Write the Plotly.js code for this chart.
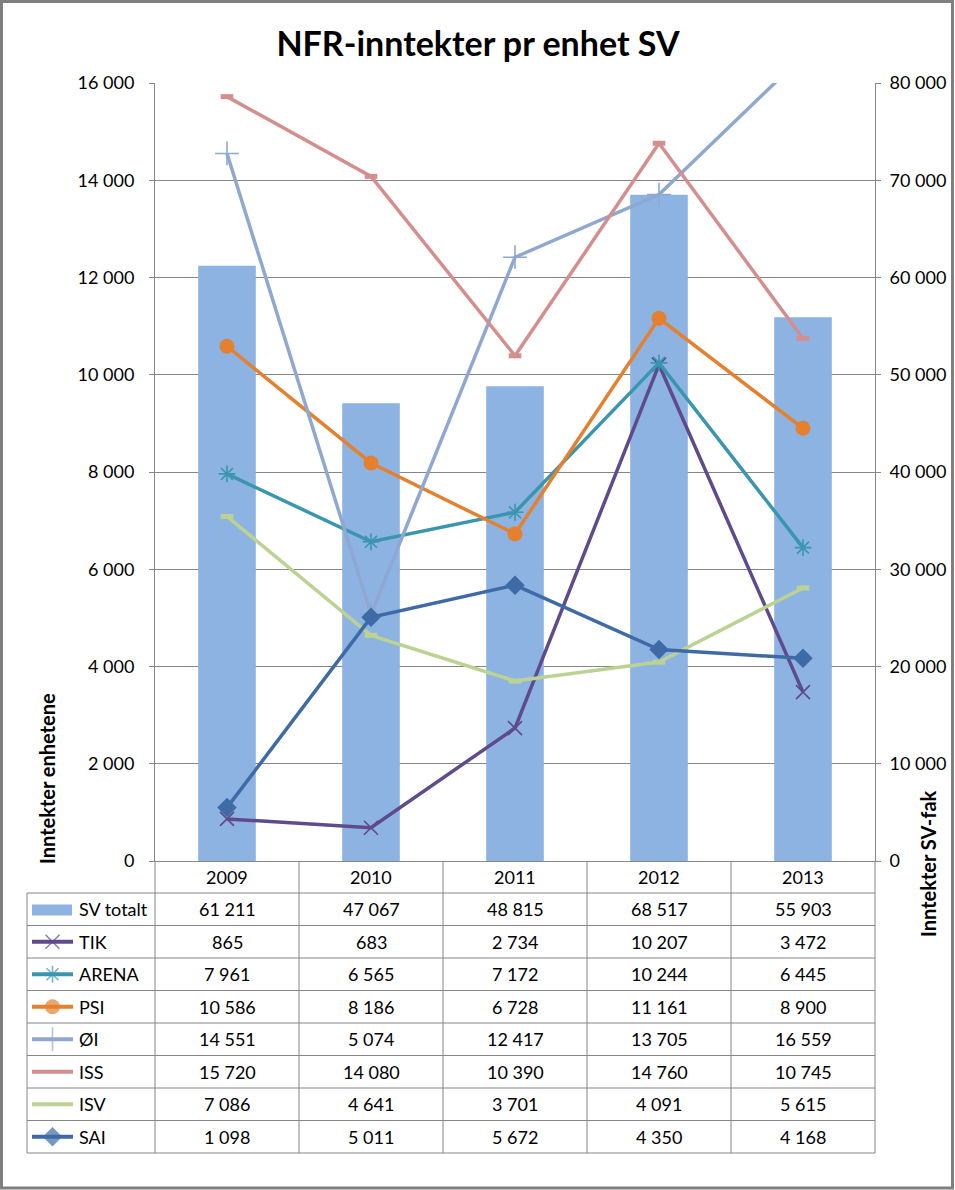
<!DOCTYPE html>
<html>
<head>
<meta charset="utf-8">
<script src="https://cdn.plot.ly/plotly-3.0.1.min.js"></script>
<style>html,body{margin:0;padding:0;background:#fff;}#chart{width:955px;height:1190px;}</style>
</head>
<body>
<div id="chart"></div>
<script>
// ---- data ----
var years = ['2009', '2010', '2011', '2012', '2013'];
var svTotalt = [61211, 47067, 48815, 68517, 55903];
var tik = [865, 683, 2734, 10207, 3472];
var arena = [7961, 6565, 7172, 10244, 6445];
var psi = [10586, 8186, 6728, 11161, 8900];
var oi = [14551, 5074, 12417, 13705, 16559];
var iss = [15720, 14080, 10390, 14760, 10745];
var isv = [7086, 4641, 3701, 4091, 5615];
var sai = [1098, 5011, 5672, 4350, 4168];
var seriesNames = ['SV totalt', 'TIK', 'ARENA', 'PSI', 'ØI', 'ISS', 'ISV', 'SAI'];

// ---- geometry / style ----
var W = 955, H = 1190;
var PL = 155, PR = 875, PT = 83, PB = 861;
var FONT = 'Lato, "Noto Sans", sans-serif';
var GRAY = '#868686';
function px(x) { return x / W; }
function py(y) { return 1 - y / H; }
function fmt(n) { return String(n).replace(/\B(?=(\d{3})+(?!\d))/g, ' '); }

var lineSeries = [
  {name: 'TIK', y: tik, color: '#5F4A8B', symbol: 'x-thin-open', size: 14, lw: 1.6},
  {name: 'ARENA', y: arena, color: '#3996AE', symbol: 'asterisk-open', size: 14, lw: 1.6},
  {name: 'PSI', y: psi, color: '#E5802E', symbol: 'circle', size: 15, lw: 0},
  {name: 'ØI', y: oi, color: '#8EA8D2', symbol: 'cross-thin-open', size: 17, lw: 1.6},
  {name: 'ISS', y: iss, color: '#D58E8E', symbol: 'line-ew-open', size: 9, lw: 5},
  {name: 'ISV', y: isv, color: '#BCD293', symbol: 'line-ew-open', size: 9, lw: 5},
  {name: 'SAI', y: sai, color: '#3E6BA6', symbol: 'diamond', size: 15, lw: 0}
];

var traces = [];
traces.push({
  type: 'bar', x: years, y: svTotalt, xaxis: 'x', yaxis: 'y',
  marker: {color: '#8DB3E2'}, width: 0.4, name: 'SV totalt', showlegend: false, hoverinfo: 'x+y'
});
lineSeries.forEach(function (s) {
  traces.push({
    type: 'scatter', mode: 'lines+markers', x: years, y: s.y, xaxis: 'x', yaxis: 'y2',
    name: s.name, showlegend: false,
    line: {color: s.color, width: 3.5},
    marker: {symbol: s.symbol, size: s.size, color: s.color, line: {color: s.color, width: s.lw}}
  });
});

// table rows geometry
var rowTops = [893, 925.5, 958, 990.5, 1023, 1055.5, 1088, 1120.5, 1153];
var colBounds = [155, 299, 443, 587, 731, 875];
var colCenters = [227, 371, 515, 659, 803];
var tableLeft = 27, tableTop = 861;

// legend keys (in a helper subplot measured in pixels)
lineSeries.forEach(function (s, i) {
  var r = i + 1;
  var yc = (rowTops[r] + rowTops[r + 1]) / 2;
  traces.push({
    type: 'scatter', mode: 'lines+markers', x: [32, 52.5, 73], y: [yc, yc, yc],
    xaxis: 'x3', yaxis: 'y3', showlegend: false, hoverinfo: 'skip',
    line: {color: s.color, width: 4},
    marker: {symbol: s.symbol, size: [0, (s.symbol.indexOf('line') === 0 ? 0 : s.size), 0], color: s.color,
             line: {color: s.color, width: s.lw}}
  });
});

var shapes = [];
var annotations = [];
// outer border
shapes.push({type: 'rect', xref: 'paper', yref: 'paper', x0: px(1.5), x1: px(952.5), y0: py(1.5), y1: py(1188), line: {color: '#7F7F7F', width: 3}});
// horizontal table lines
rowTops.forEach(function (y) {
  shapes.push({type: 'line', xref: 'paper', yref: 'paper', x0: px(tableLeft), x1: px(PR), y0: py(y), y1: py(y), line: {color: GRAY, width: 1}});
});
// vertical table lines
colBounds.forEach(function (x) {
  shapes.push({type: 'line', xref: 'paper', yref: 'paper', x0: px(x), x1: px(x), y0: py(tableTop), y1: py(1153), line: {color: GRAY, width: 1}});
});
shapes.push({type: 'line', xref: 'paper', yref: 'paper', x0: px(tableLeft), x1: px(tableLeft), y0: py(893), y1: py(1153), line: {color: GRAY, width: 1}});
// bar legend key
shapes.push({type: 'rect', xref: 'paper', yref: 'paper', x0: px(32), x1: px(72), y0: py(904.5), y1: py(915.5), fillcolor: '#8DB3E2', line: {width: 0}});

// header years
years.forEach(function (yr, j) {
  annotations.push({xref: 'paper', yref: 'paper', x: px(colCenters[j]), y: py(877), text: yr, showarrow: false,
    xanchor: 'center', yanchor: 'middle', font: {family: FONT, size: 18, color: '#000'}});
});
var tableData = [svTotalt, tik, arena, psi, oi, iss, isv, sai];
tableData.forEach(function (vals, r) {
  var yc = (rowTops[r] + rowTops[r + 1]) / 2;
  annotations.push({xref: 'paper', yref: 'paper', x: px(77), y: py(yc), text: seriesNames[r], showarrow: false,
    xanchor: 'left', yanchor: 'middle', font: {family: FONT, size: 18, color: '#000'}});
  vals.forEach(function (v, j) {
    annotations.push({xref: 'paper', yref: 'paper', x: px(colCenters[j]), y: py(yc), text: fmt(v), showarrow: false,
      xanchor: 'center', yanchor: 'middle', font: {family: FONT, size: 18, color: '#000'}});
  });
});
// axis titles
annotations.push({xref: 'paper', yref: 'paper', x: px(47), y: py(779), text: '<b>Inntekter enhetene</b>', textangle: -90,
  showarrow: false, xanchor: 'center', yanchor: 'middle', font: {family: FONT, size: 20, color: '#000'}});
annotations.push({xref: 'paper', yref: 'paper', x: px(928), y: py(864), text: '<b>Inntekter SV-fak</b>', textangle: -90,
  showarrow: false, xanchor: 'center', yanchor: 'middle', font: {family: FONT, size: 20, color: '#000'}});

var layout = {
  width: W, height: H,
  margin: {l: 0, r: 0, t: 0, b: 0},
  paper_bgcolor: '#fff', plot_bgcolor: 'rgba(0,0,0,0)',
  separators: ', ',
  showlegend: false,
  font: {family: FONT, size: 18, color: '#000'},
  title: {text: '<b>NFR-inntekter pr enhet SV</b>', x: 478 / W, xanchor: 'center', y: py(44), yanchor: 'middle',
          xref: 'paper', yref: 'container', font: {family: FONT, size: 34, color: '#000'}},
  xaxis: {domain: [px(PL), px(PR)], type: 'category', range: [-0.5, 4.5], showticklabels: false, ticks: '',
          showgrid: false, zeroline: false, showline: true, linecolor: GRAY, linewidth: 1, fixedrange: true},
  yaxis: {domain: [py(PB), py(PT)], range: [0, 80000], side: 'right', dtick: 10000, tick0: 0, tickformat: ',d',
          showgrid: true, gridcolor: GRAY, gridwidth: 1, zeroline: false, showline: true, linecolor: GRAY,
          ticks: 'outside', ticklen: 5, tickcolor: GRAY, ticklabelstandoff: 5,
          tickfont: {family: FONT, size: 18, color: '#000'}, fixedrange: true},
  yaxis2: {overlaying: 'y', side: 'left', range: [0, 16000], dtick: 2000, tick0: 0, tickformat: ',d',
          showgrid: false, zeroline: false, showline: true, linecolor: GRAY,
          ticks: 'outside', ticklen: 5, tickcolor: GRAY, ticklabelstandoff: 11,
          tickfont: {family: FONT, size: 18, color: '#000'}, fixedrange: true},
  xaxis3: {domain: [px(27), px(77)], range: [27, 77], anchor: 'y3', visible: false, fixedrange: true},
  yaxis3: {domain: [py(1153), py(893)], range: [1153, 893], anchor: 'x3', visible: false, fixedrange: true},
  shapes: shapes,
  annotations: annotations
};

Plotly.newPlot('chart', traces, layout, {displayModeBar: false, staticPlot: true});
</script>
</body>
</html>
